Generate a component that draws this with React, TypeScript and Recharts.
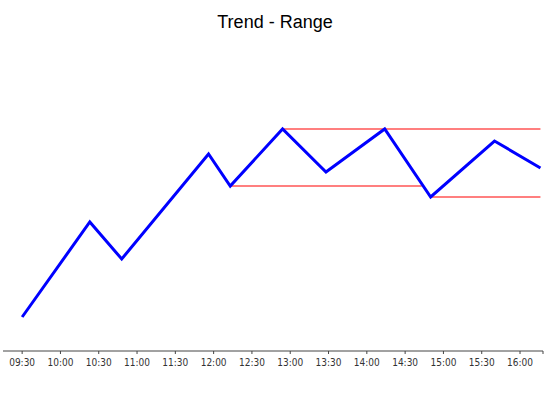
import React from 'react'
import { LineChart, Line, XAxis, YAxis } from 'recharts'

// price path (clock time, price)
const times = ['09:30', '10:23', '10:48', '11:56', '12:13', '12:54', '13:28', '14:14', '14:50', '15:40', '16:16']
const prices = [93.4, 102.9, 99.2, 109.7, 106.5, 112.2, 107.9, 112.2, 105.4, 111.0, 108.3]

// range boundaries
const rangeHighTimes = ['12:54', '16:16']
const rangeHighValue = 112.2
const rangeLowTimes = ['12:13', '14:43']
const rangeLowValue = 106.5
const rangeLow2Times = ['14:50', '16:16']
const rangeLow2Value = 105.4

const tickLabels = ['09:30', '10:00', '10:30', '11:00', '11:30', '12:00', '12:30', '13:00', '13:30', '14:00', '14:30', '15:00', '15:30', '16:00']
const axisStart = '09:15'
const axisEnd = '16:18'

const OPEN = 9 * 60 + 30
const toMin = (s: string) => {
  const [h, m] = s.split(':').map(Number)
  return h * 60 + m - OPEN
}
const fmt = (v: number) => {
  const total = v + OPEN
  const h = Math.floor(total / 60)
  const m = total % 60
  return `${String(h).padStart(2, '0')}:${String(m).padStart(2, '0')}`
}

const priceData = times.map((t, i) => ({ t: toMin(t), price: prices[i] }))
const highData = rangeHighTimes.map((t) => ({ t: toMin(t), price: rangeHighValue }))
const lowData = rangeLowTimes.map((t) => ({ t: toMin(t), price: rangeLowValue }))
const low2Data = rangeLow2Times.map((t) => ({ t: toMin(t), price: rangeLow2Value }))

const domainX: [number, number] = [toMin(axisStart), toMin(axisEnd)]
const ticks = [...tickLabels.map(toMin), domainX[1]]

const RED = '#ff7f7f'

export default function App() {
  return (
    <div style={{ position: 'absolute', left: 0, top: 0, width: 550, height: 400, background: '#fff' }}>
      <LineChart width={550} height={400} margin={{ top: 51, right: 7, bottom: 19, left: 3 }}>
        <text x={275} y={28} textAnchor="middle" fontFamily="'Liberation Sans', Arial, sans-serif" fontSize={18} fill="#000">
          Trend - Range
        </text>
        <XAxis
          type="number"
          dataKey="t"
          domain={domainX}
          ticks={ticks}
          allowDataOverflow
          tickFormatter={(v: number) => (v === domainX[1] ? '' : fmt(v))}
          height={30}
          tickSize={3}
          tickMargin={5}
          stroke="#444"
          tick={{ fontSize: 10, fontFamily: "'DejaVu Sans Condensed', 'DejaVu Sans', sans-serif", fontStretch: 'condensed', fill: '#333' }}
        />
        <YAxis hide type="number" domain={[90, 120]} />
        <Line data={highData} dataKey="price" stroke={RED} strokeWidth={2} dot={false} isAnimationActive={false} />
        <Line data={lowData} dataKey="price" stroke={RED} strokeWidth={2} dot={false} isAnimationActive={false} />
        <Line data={low2Data} dataKey="price" stroke={RED} strokeWidth={2} dot={false} isAnimationActive={false} />
        <Line data={priceData} dataKey="price" stroke="#0000ff" strokeWidth={3} dot={false} isAnimationActive={false} />
      </LineChart>
    </div>
  )
}
